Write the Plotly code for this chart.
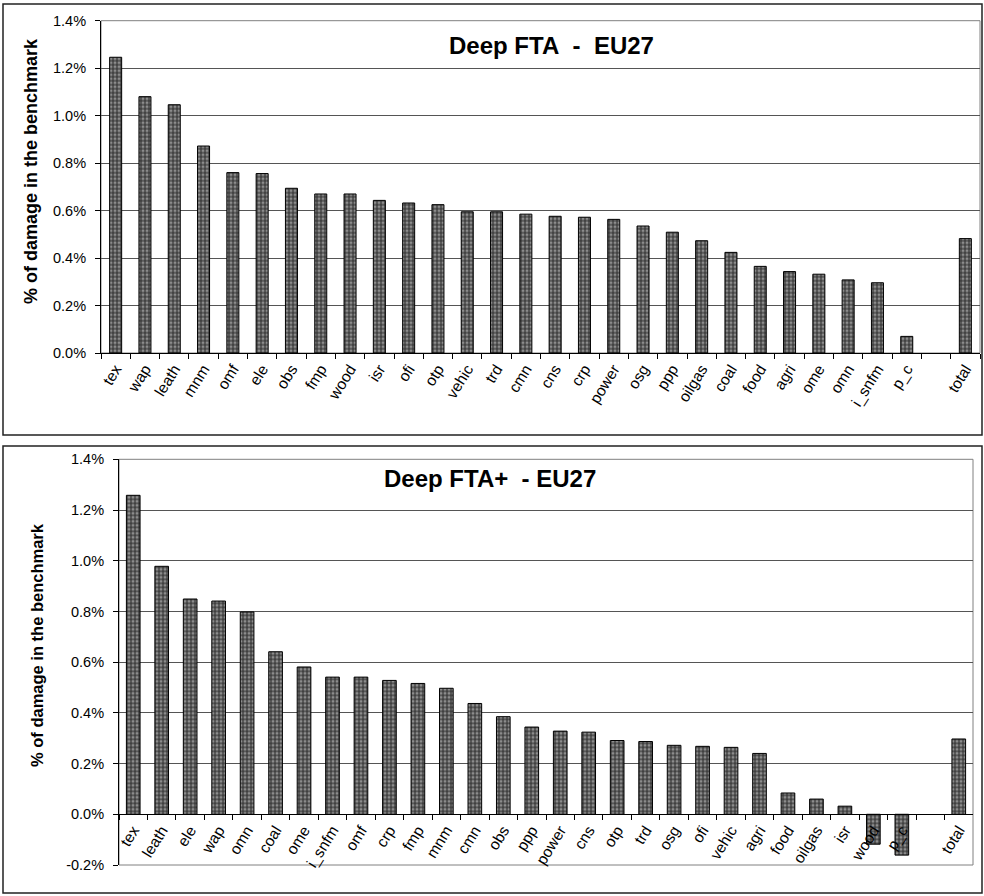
import plotly.graph_objects as go

# values are "% of damage in the benchmark"
fta_sectors = ["tex", "wap", "leath", "mnm", "omf", "ele", "obs", "fmp", "wood", "isr",
               "ofi", "otp", "vehic", "trd", "cmn", "cns", "crp", "power", "osg", "ppp",
               "oilgas", "coal", "food", "agri", "ome", "omn", "i_snfm", "p_c", " ", "total"]
fta_values = [1.246, 1.080, 1.046, 0.872, 0.760, 0.756, 0.694, 0.670, 0.670, 0.643,
              0.632, 0.625, 0.595, 0.595, 0.585, 0.576, 0.572, 0.563, 0.535, 0.509,
              0.473, 0.424, 0.365, 0.343, 0.332, 0.308, 0.296, 0.070, None, 0.482]

ftap_sectors = ["tex", "leath", "ele", "wap", "omn", "coal", "ome", "i_snfm", "omf", "crp",
                "fmp", "mnm", "cmn", "obs", "ppp", "power", "cns", "otp", "trd", "osg",
                "ofi", "vehic", "agri", "food", "oilgas", "isr", "wood", "p_c", " ", "total"]
ftap_values = [1.258, 0.978, 0.849, 0.841, 0.798, 0.641, 0.581, 0.541, 0.541, 0.528,
               0.516, 0.497, 0.437, 0.385, 0.344, 0.328, 0.324, 0.291, 0.287, 0.272,
               0.268, 0.264, 0.240, 0.084, 0.060, 0.032, -0.118, -0.161, None, 0.297]

top_ticks = [0.0, 0.2, 0.4, 0.6, 0.8, 1.0, 1.2, 1.4]
top_ticktext = ["0.0%", "0.2%", "0.4%", "0.6%", "0.8%", "1.0%", "1.2%", "1.4%"]
bottom_ticks = [-0.2, 0.0, 0.2, 0.4, 0.6, 0.8, 1.0, 1.2, 1.4]
bottom_ticktext = ["-0.2%", "0.0%", "0.2%", "0.4%", "0.6%", "0.8%", "1.0%", "1.2%", "1.4%"]

W, H = 984, 896
FONT = "Liberation Sans, Arial, sans-serif"


def px(x):
    return x / W


def py(y):
    return 1 - y / H


bar_marker = dict(
    color="#404040",
    line=dict(color="black", width=1),
    pattern=dict(shape=".", fgcolor="#d8d8d8", bgcolor="#404040",
                 size=4, solidity=0.45, fillmode="overlay"),
)

fig = go.Figure()
fig.add_trace(go.Bar(x=fta_sectors, y=fta_values, width=0.41, marker=bar_marker,
                     xaxis="x", yaxis="y", name="Deep FTA"))
fig.add_trace(go.Bar(x=ftap_sectors, y=ftap_values, width=0.48, marker=bar_marker,
                     xaxis="x2", yaxis="y2", name="Deep FTA+"))

axis_font = dict(family=FONT, size=14.5, color="black")
cat_font = dict(family=FONT, size=15.5, color="black")

fig.update_layout(
    template="none",
    width=W, height=H,
    margin=dict(l=0, r=0, t=0, b=0, autoexpand=False),
    paper_bgcolor="white", plot_bgcolor="white",
    showlegend=False,
    font=dict(family=FONT, color="black"),
    xaxis=dict(
        domain=[px(101), px(980)], anchor="y", automargin=False,
        type="category", categoryorder="array", categoryarray=fta_sectors,
        tickangle=-58, tickfont=cat_font,
        ticks="outside", tickson="boundaries", ticklen=5, tickcolor="black",
        showline=True, linecolor="black", linewidth=1, showgrid=False,
    ),
    yaxis=dict(
        domain=[py(353), py(20.7)], anchor="x", range=[0, 1.4], automargin=False,
        tickvals=top_ticks, ticktext=top_ticktext, tickfont=axis_font,
        ticks="outside", ticklen=5, tickcolor="black", ticklabelstandoff=6,
        showline=True, linecolor="black", linewidth=1,
        showgrid=True, gridcolor="#555555", gridwidth=1, zeroline=False,
    ),
    xaxis2=dict(
        domain=[px(119), px(973)], anchor="free", position=py(814.2), automargin=False,
        type="category", categoryorder="array", categoryarray=ftap_sectors,
        tickangle=-58, tickfont=cat_font,
        ticks="outside", tickson="boundaries", ticklen=5, tickcolor="black",
        showline=True, linecolor="black", linewidth=1, showgrid=False,
    ),
    yaxis2=dict(
        domain=[py(865), py(459.3)], anchor="x2", range=[-0.2, 1.4], automargin=False,
        tickvals=bottom_ticks, ticktext=bottom_ticktext, tickfont=axis_font,
        ticks="outside", ticklen=5, tickcolor="black", ticklabelstandoff=6,
        showline=True, linecolor="black", linewidth=1,
        showgrid=True, gridcolor="#555555", gridwidth=1, zeroline=False,
    ),
)

# outer chart frames and plot-area borders
frames = [(3, 4, 982, 435), (3, 446, 982, 893)]
for x0, y0, x1, y1 in frames:
    fig.add_shape(type="rect", xref="paper", yref="paper",
                  x0=px(x0), x1=px(x1), y0=py(y1), y1=py(y0),
                  line=dict(color="#222222", width=1.5), layer="below")
for ax in ["x", "x2"]:
    yax = "y" if ax == "x" else "y2"
    fig.add_shape(type="rect", xref=f"{ax} domain", yref=f"{yax} domain",
                  x0=0, x1=1, y0=0, y1=1, line=dict(color="#808080", width=1),
                  layer="below")

nb = "\u00a0"
fig.add_annotation(text=f"<b>Deep FTA{nb}{nb}-{nb}{nb}EU27</b>", xref="paper", yref="paper",
                   x=px(551), y=py(45), xanchor="center", yanchor="middle", showarrow=False,
                   font=dict(family=FONT, size=24, color="black"))
fig.add_annotation(text=f"<b>Deep FTA+{nb}{nb}-{nb}EU27</b>", xref="paper", yref="paper",
                   x=px(490), y=py(478), xanchor="center", yanchor="middle", showarrow=False,
                   font=dict(family=FONT, size=24, color="black"))

fig.add_annotation(text="<b>% of damage in the benchmark</b>", xref="paper", yref="paper",
                   x=px(31), y=py(171), xanchor="center", yanchor="middle",
                   textangle=-90, showarrow=False,
                   font=dict(family=FONT, size=18, color="black"))
fig.add_annotation(text="<b>% of damage in the benchmark</b>", xref="paper", yref="paper",
                   x=px(37), y=py(645), xanchor="center", yanchor="middle",
                   textangle=-90, showarrow=False,
                   font=dict(family=FONT, size=16.5, color="black"))

fig.write_html("out.html", config={"displayModeBar": False},
               post_script="document.body.style.margin = '0';")
